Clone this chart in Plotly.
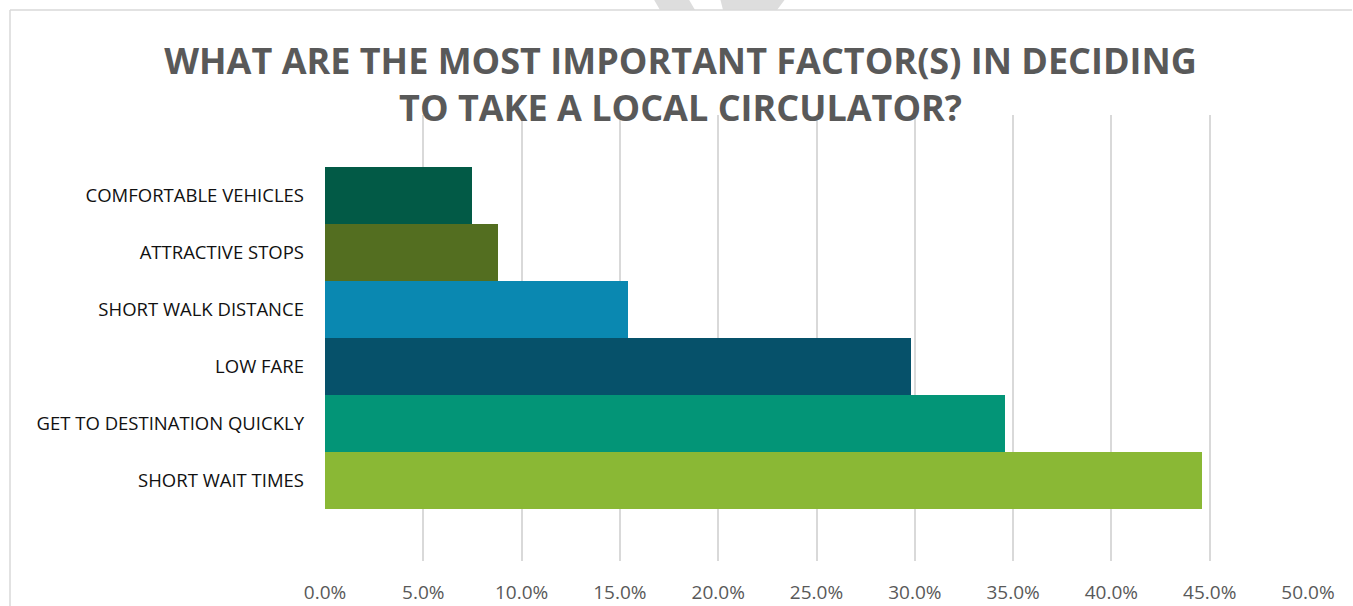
import plotly.graph_objects as go

categories = [
    "COMFORTABLE VEHICLES",
    "ATTRACTIVE STOPS",
    "SHORT WALK DISTANCE",
    "LOW FARE",
    "GET TO DESTINATION QUICKLY",
    "SHORT WAIT TIMES",
]
values = [0.075, 0.088, 0.154, 0.298, 0.346, 0.446]
colors = ["#025A46", "#536E20", "#0A88B1", "#06516A", "#039577", "#8AB835"]
x_ticks = [0, 0.05, 0.10, 0.15, 0.20, 0.25, 0.30, 0.35, 0.40, 0.45, 0.50]

title_text = "WHAT ARE THE MOST IMPORTANT FACTOR(S) IN DECIDING<br>TO TAKE A LOCAL CIRCULATOR?"

W, H = 1353, 606
L, R, T, B = 325, 45, 115, 45
pw, ph = W - L - R, H - T - B

def px_x(p):
    return (p - L) / pw

def px_y(p):
    return (H - B - p) / ph

def poly(points):
    s = "M " + " L ".join(f"{px_x(x):.5f},{px_y(y):.5f}" for x, y in points) + " Z"
    return s

fig = go.Figure(
    go.Bar(
        x=values,
        y=categories,
        orientation="h",
        marker=dict(color=colors, line=dict(width=0)),
        width=1.0,
        hoverinfo="x+y",
    )
)

fig.update_layout(
    width=W,
    height=H,
    margin=dict(l=L, r=R, t=T, b=B),
    paper_bgcolor="white",
    plot_bgcolor="white",
    showlegend=False,
    bargap=0,
    title=dict(
        text=title_text,
        x=0.503,
        xanchor="center",
        y=1 - 74 / H,
        yanchor="middle",
        automargin=False,
        font=dict(family="Open Sans", size=36, color="#595959", weight="bold"),
    ),
    font=dict(family="Open Sans"),
    xaxis=dict(
        range=[0, 0.5],
        tickvals=x_ticks,
        tickformat=".1%",
        showgrid=True,
        gridcolor="#D9D9D9",
        gridwidth=1.5,
        zeroline=False,
        showline=False,
        ticks="",
        automargin=False,
        ticklabelstandoff=18,
        tickfont=dict(family="Open Sans", size=19, color="#595959"),
        fixedrange=True,
    ),
    yaxis=dict(
        type="category",
        categoryorder="array",
        categoryarray=categories,
        range=[6.412, -1.412],
        showgrid=False,
        zeroline=False,
        showline=False,
        ticks="",
        automargin=False,
        ticklabelstandoff=20,
        tickfont=dict(family="Open Sans", size=18.5, color="#111111"),
        fixedrange=True,
    ),
    shapes=[
        dict(type="path", xref="paper", yref="paper",
             path=poly([(653, -2), (688, -2), (695, 10), (660, 10)]),
             fillcolor="#DDDDDD", line=dict(width=0)),
        dict(type="path", xref="paper", yref="paper",
             path=poly([(720, -2), (786, -2), (777, 10), (723, 10)]),
             fillcolor="#DDDDDD", line=dict(width=0)),
        dict(type="line", xref="paper", yref="paper",
             x0=px_x(10), x1=px_x(10), y0=px_y(10), y1=px_y(700),
             line=dict(color="#D9D9D9", width=1.5)),
        dict(type="line", xref="paper", yref="paper",
             x0=px_x(10), x1=px_x(1352), y0=px_y(10), y1=px_y(10),
             line=dict(color="#D9D9D9", width=1.5)),
    ],
)

fig.write_html(
    "out.html",
    config={"displayModeBar": False},
    post_script="document.body.style.margin='0';document.body.style.overflow='hidden';",
)
